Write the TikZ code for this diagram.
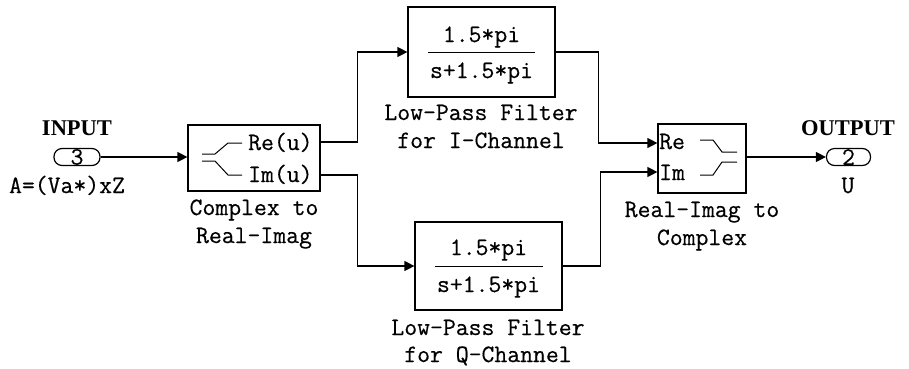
\documentclass[tikz,border=0pt]{standalone}
\usepackage{fontspec}
\setmonofont{Latin Modern Mono}[FakeBold=0.45]
\newfontfamily\hdfont{Liberation Serif}
\usetikzlibrary{arrows.meta}
\begin{document}
\begin{tikzpicture}[x=1pt,y=-1pt,
  blk/.style={draw,line width=1.2pt,inner sep=0pt},
  port/.style={draw,line width=1.2pt,rounded corners=8pt,minimum height=17pt,inner sep=0pt,font=\ttfamily\fontsize{25}{25}\selectfont},
  wire/.style={line width=1.2pt},
  icon/.style={line width=1pt},
  arr/.style={wire,-{Triangle[length=10pt,width=10pt]}},
  txt/.style={font=\ttfamily\fontsize{25}{26}\selectfont,inner sep=0pt,anchor=base},
  btxt/.style={font=\hdfont\bfseries\fontsize{22.5}{23}\selectfont,inner sep=0pt,anchor=base}]
\useasboundingbox (0,0) rectangle (909,368);
% blocks
\node[blk,minimum width=132pt,minimum height=66pt] (cplx) at (254,158) {};
\node[blk,minimum width=147pt,minimum height=90pt] (lpfI) at (481.5,52) {};
\node[blk,minimum width=147pt,minimum height=88pt] (lpfQ) at (488.5,266) {};
\node[blk,minimum width=88pt,minimum height=69pt] (ri2c) at (702,158.5) {};
\node[port,minimum width=46pt] (inp) at (77,157) {3};
\node[port,minimum width=44pt] (outp) at (848.5,157) {2};
% port labels
\node[btxt] (inlbl) at (77,135) {INPUT};
\node[txt] (insig) at (67,193) {A=(Va*)xZ};
\node[btxt] (outlbl) at (848,135) {OUTPUT};
\node[txt] (outsig) at (848,193) {U};
% complex to real-imag contents
\node[txt,anchor=base west] (reu) at (248,150) {Re(u)};
\node[txt,anchor=base west] (imu) at (248,182) {Im(u)};
\draw[icon] (202,154) -- (215,154) -- (228,143) -- (242,143);
\draw[icon] (202,161) -- (215,161) -- (228,175) -- (242,175);
\node[txt] (c1) at (254,215) {Complex to};
\node[txt] (c2) at (254,243) {Real-Imag};
% filter I
\node[txt] (nI) at (481.5,42) {1.5*pi};
\draw[icon] (428,52) -- (535,52);
\node[txt] (dI) at (481.5,78) {s+1.5*pi};
\node[txt] (lI1) at (481,120) {Low-Pass Filter};
\node[txt] (lI2) at (481,148) {for I-Channel};
% filter Q
\node[txt] (nQ) at (488.5,255) {1.5*pi};
\draw[icon] (435,266) -- (543,266);
\node[txt] (dQ) at (488.5,292) {s+1.5*pi};
\node[txt] (lQ1) at (488,335) {Low-Pass Filter};
\node[txt] (lQ2) at (488,362) {for Q-Channel};
% real-imag to complex contents
\node[txt,anchor=base west] (rein) at (659,149) {Re};
\node[txt,anchor=base west] (imin) at (659,180) {Im};
\draw[icon] (700,140) -- (713,140) -- (722,152) -- (737,152);
\draw[icon] (700,175) -- (713,175) -- (722,162) -- (737,162);
\node[txt] (r1) at (702,217) {Real-Imag to};
\node[txt] (r2) at (702,245) {Complex};
% connectors
\draw[arr] (inp.east) -- (cplx.west |- inp.east);
\draw[arr] ([yshift=16pt]cplx.east) -- ++(37,0) |- (lpfI.west);
\draw[arr] ([yshift=-17pt]cplx.east) -- ++(37,0) |- (lpfQ.west);
\draw[arr] (lpfI.east) -- ++(43,0) |- ([yshift=15.5pt]ri2c.west);
\draw[arr] (lpfQ.east) -- ++(38,0) |- ([yshift=-13.5pt]ri2c.west);
\draw[arr] (ri2c.east |- outp.west) -- (outp.west);
\end{tikzpicture}
\end{document}
